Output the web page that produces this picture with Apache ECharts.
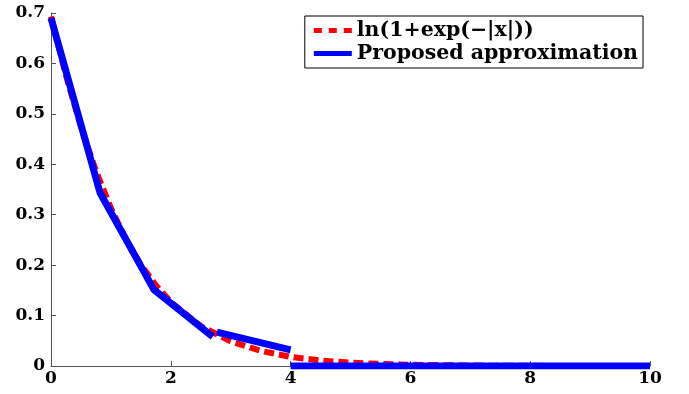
<!DOCTYPE html>
<html>
<head>
<meta charset="utf-8">
<script src="https://cdn.jsdelivr.net/npm/echarts@6/dist/echarts.min.js"></script>
<style>
  html, body { margin: 0; padding: 0; background: #fff; }
  #chart { width: 689px; height: 394px; }
</style>
</head>
<body>
<div id="chart"></div>
<script>

// exact curve, values
var exactX = [0, 0.25, 0.5, 0.75, 1, 1.25, 1.5, 1.75, 2, 2.5, 3, 3.5, 4, 4.5, 5, 5.5, 6, 7, 8, 9, 10];
var exactY = [0.693, 0.576, 0.474, 0.387, 0.313, 0.252, 0.201, 0.160, 0.127, 0.079, 0.049, 0.030, 0.018, 0.011, 0.0067, 0.0041, 0.0025, 0.0009, 0.0003, 0.0001, 0.00005];

// piecewise linear approximation, '-' breaks the line
var approxX = [0, 0.82, 1.72, 2.7, 2.73, 2.77, 4, 4.0, 4, 10];
var approxY = [0.69, 0.343, 0.151, 0.058, '-', 0.067, 0.032, '-', 0, 0];

var xTicks = [0, 2, 4, 6, 8, 10];
var yTicks = [0, 0.1, 0.2, 0.3, 0.4, 0.5, 0.6, 0.7];

var legendNames = ['ln(1+exp(\u2212|x|))', 'Proposed approximation'];

var zip = function(xs, ys) {
    var out = [];
    for (var i = 0; i < xs.length; i++) {
        out.push([xs[i], ys[i]]);
    }
    return out;
};

var fontFam = '"DejaVu Serif", "Liberation Serif", serif';
var axisColor = '#555';

var opts = {
    animation: false,
    backgroundColor: '#fff',
    grid: { left: 51, right: 39, top: 13, bottom: 28 },
    legend: {
        right: 46,
        top: 16,
        orient: 'vertical',
        backgroundColor: '#fff',
        borderColor: '#000',
        borderWidth: 1,
        padding: [4, 5, 4, 9],
        itemGap: 2,
        itemWidth: 38,
        itemHeight: 5,
        textStyle: { fontFamily: fontFam, fontWeight: 'bold', fontSize: 20.5, color: '#000' },
        data: [
            { name: legendNames[0], icon: 'path://M0,0h8v5h-8zM15,0h8v5h-8zM30,0h8v5h-8z', itemStyle: { color: '#ff0000' } },
            { name: legendNames[1], icon: 'path://M0,0h38v5h-38z', itemStyle: { color: '#0000ff' } }
        ]
    },
    xAxis: {
        type: 'value',
        min: 0, max: 10, interval: 2,
        axisLine: { lineStyle: { color: axisColor, width: 1 } },
        axisTick: { inside: true, length: 5, lineStyle: { color: axisColor } },
        splitLine: { show: false },
        axisLabel: {
            margin: 4,
            fontFamily: fontFam, fontWeight: 'bold', fontSize: 17, color: '#000',
            formatter: function(v) { return xTicks.indexOf(v) >= 0 ? String(v) : ''; }
        }
    },
    yAxis: {
        type: 'value',
        min: 0, max: 0.7, interval: 0.1,
        axisLine: { show: true, lineStyle: { color: axisColor, width: 1 } },
        axisTick: { show: true, inside: true, length: 5, lineStyle: { color: axisColor } },
        splitLine: { show: false },
        axisLabel: {
            margin: 6,
            fontFamily: fontFam, fontWeight: 'bold', fontSize: 17, color: '#000',
            formatter: function(v) {
                var r = Math.round(v * 10) / 10;
                return r === 0 ? '0' : r.toFixed(1);
            }
        }
    },
    series: [
        {
            name: legendNames[0],
            type: 'line',
            data: zip(exactX, exactY),
            showSymbol: false,
            symbol: 'none',
            smooth: false,
            lineStyle: { color: '#ff0000', width: 6, type: [10, 5], cap: 'butt' },
            itemStyle: { color: '#ff0000' }
        },
        {
            name: legendNames[1],
            type: 'line',
            data: zip(approxX, approxY),
            showSymbol: false,
            symbol: 'none',
            connectNulls: false,
            lineStyle: { color: '#0000ff', width: 7, cap: 'butt' },
            itemStyle: { color: '#0000ff' }
        }
    ]
};

var myChartObj = echarts.init(document.getElementById('chart'));
myChartObj.setOption(opts);
</script>
</body>
</html>
